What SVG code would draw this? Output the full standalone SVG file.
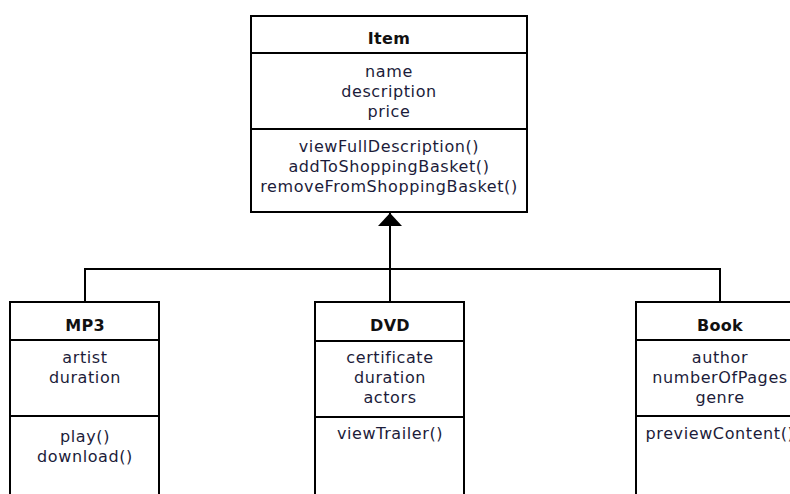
<svg xmlns="http://www.w3.org/2000/svg" width="790" height="494" viewBox="0 0 790 494">
<defs>
<style>
.box{fill:#fff;stroke:#000;stroke-width:2}
.div{stroke:#000;stroke-width:2}
.t{font-family:"DejaVu Sans",Verdana,sans-serif;font-size:16px;letter-spacing:0.6px;fill:#1c1c3a;text-anchor:middle}
.b{font-weight:bold;fill:#111;letter-spacing:0.3px}
.conn{fill:none;stroke:#000;stroke-width:2}
</style>
<marker id="tri" viewBox="0 0 13 24" refX="13" refY="12" markerWidth="13" markerHeight="24" markerUnits="userSpaceOnUse" orient="auto">
<path d="M0,0 L13,12 L0,24 Z" fill="#000"/>
</marker>
</defs>
<rect width="790" height="494" fill="#fff"/>
<g id="connectors">
<polyline class="conn" points="85,302 85,269 720,269 720,302"/>
<line class="conn" x1="390" y1="302" x2="390" y2="213" marker-end="url(#tri)"/>
</g>
<g id="Item">
<rect class="box" x="251" y="16" width="276" height="196"/>
<line class="div" x1="251" y1="53" x2="527" y2="53"/>
<line class="div" x1="251" y1="129" x2="527" y2="129"/>
<text class="t b" x="389" y="44">Item</text>
<text class="t" x="389" y="77">name</text>
<text class="t" x="389" y="97">description</text>
<text class="t" x="389" y="117">price</text>
<text class="t" x="389" y="152">viewFullDescription()</text>
<text class="t" x="389" y="172">addToShoppingBasket()</text>
<text class="t" x="389" y="192">removeFromShoppingBasket()</text>
</g>
<g id="MP3">
<rect class="box" x="10" y="302" width="149" height="200"/>
<line class="div" x1="10" y1="340" x2="159" y2="340"/>
<line class="div" x1="10" y1="416" x2="159" y2="416"/>
<text class="t b" x="85" y="331">MP3</text>
<text class="t" x="85" y="363">artist</text>
<text class="t" x="85" y="383">duration</text>
<text class="t" x="85" y="442">play()</text>
<text class="t" x="85" y="462">download()</text>
</g>
<g id="DVD">
<rect class="box" x="315" y="302" width="149" height="200"/>
<line class="div" x1="315" y1="341" x2="464" y2="341"/>
<line class="div" x1="315" y1="417" x2="464" y2="417"/>
<text class="t b" x="390" y="331">DVD</text>
<text class="t" x="390" y="363">certificate</text>
<text class="t" x="390" y="383">duration</text>
<text class="t" x="390" y="403">actors</text>
<text class="t" x="390" y="439">viewTrailer()</text>
</g>
<g id="Book">
<rect class="box" x="636" y="302" width="168" height="200"/>
<line class="div" x1="636" y1="340" x2="804" y2="340"/>
<line class="div" x1="636" y1="416" x2="804" y2="416"/>
<text class="t b" x="720" y="331">Book</text>
<text class="t" x="720" y="363">author</text>
<text class="t" x="720" y="383">numberOfPages</text>
<text class="t" x="720" y="403">genre</text>
<text class="t" x="720" y="439">previewContent()</text>
</g>
</svg>
